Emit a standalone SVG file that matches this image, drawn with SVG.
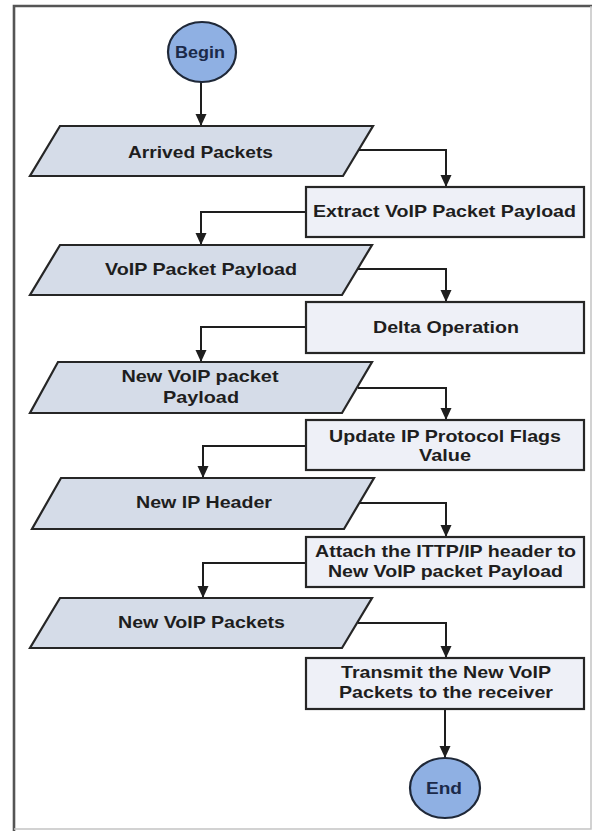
<svg xmlns="http://www.w3.org/2000/svg" width="596" height="831" viewBox="0 0 596 831">
<defs>
<marker id="arr" markerUnits="userSpaceOnUse" markerWidth="12" markerHeight="12" viewBox="0 0 12 12" refX="12" refY="6" orient="auto">
<path d="M0,0.5 L12,6 L0,11.5 z" fill="#1e1e1e"/>
</marker>
<style>
.term{fill:#8fb0e3;stroke:#1f2838;stroke-width:2.2}
.io{fill:#d5dce8;stroke:#262626;stroke-width:2.2;stroke-linejoin:miter}
.proc{fill:#eef0f7;stroke:#262626;stroke-width:2.2}
.lbl{font-family:"Liberation Sans",Arial,sans-serif;font-weight:bold;font-size:17px;fill:#1e1e1e;text-anchor:middle}
.tlbl{font-family:"Liberation Sans",Arial,sans-serif;font-weight:bold;font-size:17px;fill:#1b2a4a;text-anchor:middle}
.conn{fill:none;stroke:#1e1e1e;stroke-width:2;marker-end:url(#arr)}
</style>
</defs>
<rect width="596" height="831" fill="#ffffff"/>
<g id="frame">
<path d="M14,831 L14,6 L592,6" fill="none" stroke="#555555" stroke-width="2.6"/>
<path d="M591,6 L591,829 L14,829" fill="none" stroke="#c4c4c4" stroke-width="1.5"/>
</g>
<g id="connectors">
<path class="conn" d="M201,82 L201,126"/>
<path class="conn" d="M359,150 L446,150 L446,187"/>
<path class="conn" d="M306,212 L201,212 L201,245"/>
<path class="conn" d="M358,269 L446,269 L446,302"/>
<path class="conn" d="M306,327 L201,327 L201,362"/>
<path class="conn" d="M358,388 L446,388 L446,420"/>
<path class="conn" d="M306,446 L203,446 L203,478"/>
<path class="conn" d="M359,503 L446,503 L446,537"/>
<path class="conn" d="M306,563 L203,563 L203,598"/>
<path class="conn" d="M358,623 L446,623 L446,658"/>
<path class="conn" d="M445,709 L445,758"/>
</g>
<g id="begin">
<ellipse class="term" cx="202" cy="52" rx="34" ry="30"/>
<text class="tlbl" x="200" y="58" textLength="50" lengthAdjust="spacingAndGlyphs">Begin</text>
</g>
<g id="arrived-packets">
<polygon class="io" points="60,126 373,126 343,176 30,176"/>
<text class="lbl" x="200.5" y="158" textLength="145" lengthAdjust="spacingAndGlyphs">Arrived Packets</text>
</g>
<g id="extract">
<rect class="proc" x="306" y="187" width="278" height="50"/>
<text class="lbl" x="444.5" y="217" textLength="263" lengthAdjust="spacingAndGlyphs">Extract VoIP Packet Payload</text>
</g>
<g id="voip-payload">
<polygon class="io" points="60,245 372,245 342,295 30,295"/>
<text class="lbl" x="201" y="275" textLength="192" lengthAdjust="spacingAndGlyphs">VoIP Packet Payload</text>
</g>
<g id="delta">
<rect class="proc" x="306" y="302" width="278" height="51"/>
<text class="lbl" x="446" y="333" textLength="146" lengthAdjust="spacingAndGlyphs">Delta Operation</text>
</g>
<g id="new-voip-payload">
<polygon class="io" points="58,362 372,362 342,413 30,413"/>
<text class="lbl" x="200" y="382" textLength="157" lengthAdjust="spacingAndGlyphs">New VoIP packet</text>
<text class="lbl" x="201" y="403" textLength="76" lengthAdjust="spacingAndGlyphs">Payload</text>
</g>
<g id="update-flags">
<rect class="proc" x="306" y="420" width="278" height="50"/>
<text class="lbl" x="445" y="442" textLength="232" lengthAdjust="spacingAndGlyphs">Update IP Protocol Flags</text>
<text class="lbl" x="445" y="461" textLength="52" lengthAdjust="spacingAndGlyphs">Value</text>
</g>
<g id="new-ip-header">
<polygon class="io" points="61,478 374,478 344,529 32,529"/>
<text class="lbl" x="204" y="508" textLength="136" lengthAdjust="spacingAndGlyphs">New IP Header</text>
</g>
<g id="attach">
<rect class="proc" x="306" y="537" width="278" height="50"/>
<text class="lbl" x="445.5" y="557" textLength="261" lengthAdjust="spacingAndGlyphs">Attach the ITTP/IP header to</text>
<text class="lbl" x="445.5" y="577" textLength="235" lengthAdjust="spacingAndGlyphs">New VoIP packet Payload</text>
</g>
<g id="new-voip-packets">
<polygon class="io" points="60,598 372,598 342,648 30,648"/>
<text class="lbl" x="201.5" y="628" textLength="167" lengthAdjust="spacingAndGlyphs">New VoIP Packets</text>
</g>
<g id="transmit">
<rect class="proc" x="306" y="658" width="278" height="51"/>
<text class="lbl" x="446" y="678" textLength="210" lengthAdjust="spacingAndGlyphs">Transmit the New VoIP</text>
<text class="lbl" x="446" y="698" textLength="214" lengthAdjust="spacingAndGlyphs">Packets to the receiver</text>
</g>
<g id="end">
<ellipse class="term" cx="445" cy="788" rx="35" ry="30"/>
<text class="tlbl" x="444" y="794" textLength="36" lengthAdjust="spacingAndGlyphs">End</text>
</g>
</svg>
